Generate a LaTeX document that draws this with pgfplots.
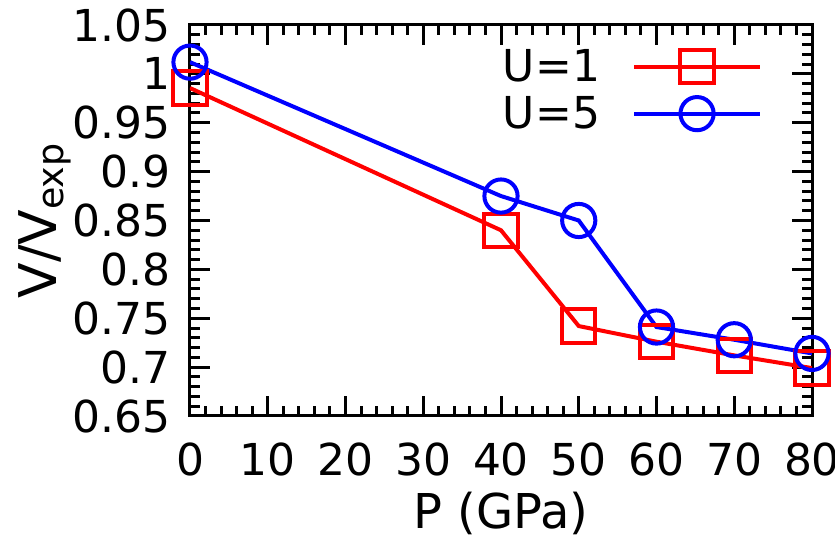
\documentclass[border=0pt]{standalone}
\usepackage{pgfplots}
\pgfplotsset{compat=1.18}
\usepackage{fontspec}
\setmainfont{DejaVu Sans}

\begin{document}
\begin{tikzpicture}
\begin{axis}[
    name=ax,
    scale only axis,
    width=311pt, height=195.5pt,
    xmin=0, xmax=80, ymin=0.65, ymax=1.05,
    xtick={0,10,...,80},
    ytick={0.65,0.7,...,1.06},
    minor x tick num=4, minor y tick num=4,
    tick align=inside,
    major tick length=10pt, minor tick length=5pt,
    axis line style={line width=1.5pt},
    every tick/.style={black, line width=1.5pt},
    font=\fontsize{22}{26}\selectfont,
    /pgf/number format/assume math mode=true,
    yticklabel style={/pgf/number format/fixed, xshift=-6pt},
    xticklabel style={yshift=-10pt},
    xlabel={P (GPa)},
    ylabel={V/V\textsubscript{exp}},
    xlabel style={yshift=-1pt, font=\fontsize{24}{28}\selectfont},
    ylabel style={yshift=-6pt, font=\fontsize{26}{30}\selectfont},
    legend style={draw=none, fill=none, at={(0.93,0.96)}, anchor=north east,
        row sep=2pt, font=\fontsize{22}{26}\selectfont,
        /tikz/column 1/.style={column sep=14pt}},
    legend plot pos=right,
    legend cell align=right,
    legend image code/.code={
        \draw[#1] plot coordinates {(0pt,0pt)(31.5pt,0pt)(63pt,0pt)};
    },
    legend image post style={mark repeat=2, mark phase=2},
]
\addplot[red, line width=2pt, mark=square, mark size=8.3pt, mark options={solid, fill=none}]
    coordinates {(0,0.9855)(40,0.840)(50,0.742)(60,0.726)(70,0.712)(80,0.699)};
\addlegendentry{U=1}
\addplot[blue, line width=2pt, mark=o, mark size=8.3pt, mark options={solid, fill=none}]
    coordinates {(0,1.012)(40,0.875)(50,0.850)(60,0.741)(70,0.728)(80,0.714)};
\addlegendentry{U=5}
\end{axis}
\pgfresetboundingbox
\path[use as bounding box] ([xshift=-95pt, yshift=-66pt]ax.south west) rectangle ([xshift=11.5pt, yshift=12.5pt]ax.north east);
\end{tikzpicture}
\end{document}
